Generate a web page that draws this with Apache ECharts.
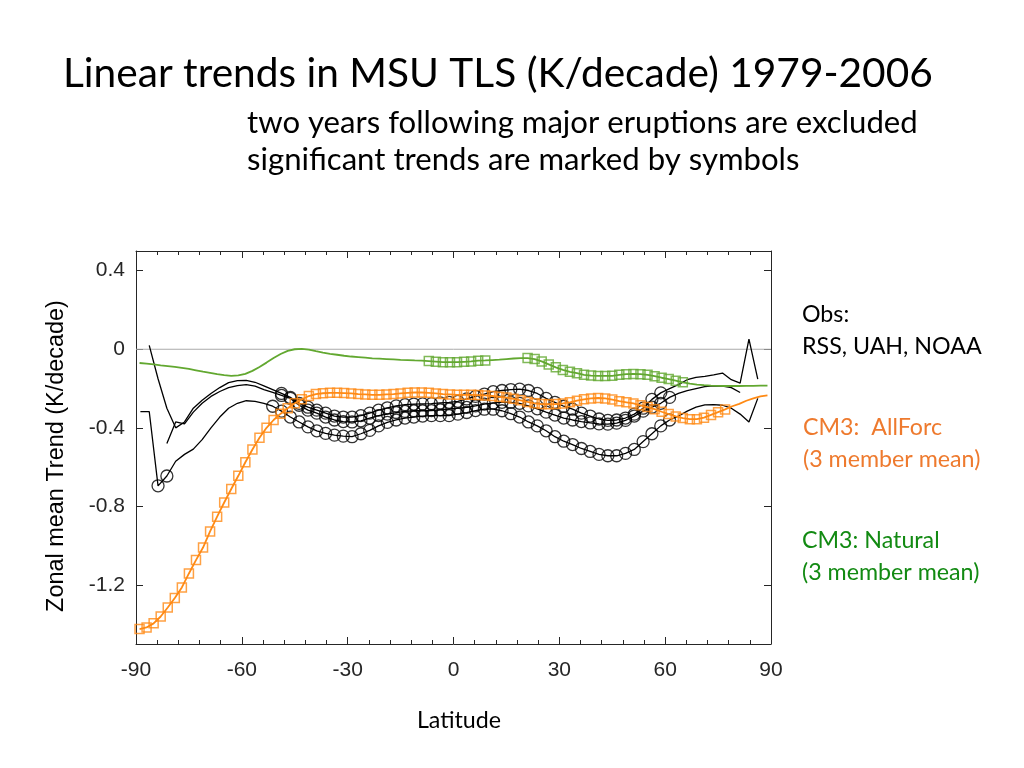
<!DOCTYPE html>
<html><head><meta charset="utf-8">
<script src="https://cdn.jsdelivr.net/npm/echarts@6/dist/echarts.min.js"></script>
<style>html,body{margin:0;padding:0;background:#fff}#c{width:1024px;height:768px}</style>
</head><body><div id="c"></div><script>
// ---------------- data ----------------
const modelLat = [-89,-87,-85,-83,-81,-79,-77,-75,-73,-71,
  -69,-67,-65,-63,-61,-59,-57,-55,-53,-51,
  -49,-47,-45,-43,-41,-39,-37,-35,-33,-31,
  -29,-27,-25,-23,-21,-19,-17,-15,-13,-11,
  -9,-7,-5,-3,-1,1,3,5,7,9,
  11,13,15,17,19,21,23,25,27,29,
  31,33,35,37,39,41,43,45,47,49,
  51,53,55,57,59,61,63,65,67,69,
  71,73,75,77,79,81,83,85,87,89];
const allForc = [-1.424,-1.416,-1.395,-1.36,-1.314,-1.266,-1.212,-1.141,-1.073,-1.009,
  -0.927,-0.852,-0.78,-0.711,-0.644,-0.575,-0.51,-0.45,-0.40,-0.36,
  -0.328,-0.30,-0.275,-0.255,-0.238,-0.228,-0.224,-0.222,-0.222,-0.223,
  -0.225,-0.228,-0.23,-0.232,-0.232,-0.23,-0.228,-0.225,-0.222,-0.22,
  -0.22,-0.222,-0.225,-0.228,-0.23,-0.232,-0.232,-0.232,-0.233,-0.235,
  -0.238,-0.242,-0.246,-0.252,-0.26,-0.268,-0.275,-0.279,-0.28,-0.279,
  -0.276,-0.27,-0.262,-0.255,-0.25,-0.248,-0.25,-0.256,-0.264,-0.27,
  -0.276,-0.285,-0.294,-0.305,-0.318,-0.33,-0.342,-0.35,-0.356,-0.356,
  -0.348,-0.334,-0.32,-0.306,-0.29,-0.278,-0.262,-0.25,-0.24,-0.235];
const natural = [-0.07,-0.073,-0.077,-0.082,-0.086,-0.09,-0.095,-0.1,-0.107,-0.114,
  -0.12,-0.127,-0.132,-0.135,-0.133,-0.125,-0.11,-0.09,-0.068,-0.045,
  -0.024,-0.008,0.0,0.002,-0.002,-0.01,-0.017,-0.023,-0.028,-0.033,
  -0.037,-0.04,-0.043,-0.046,-0.048,-0.05,-0.052,-0.054,-0.055,-0.057,
  -0.058,-0.06,-0.063,-0.066,-0.066,-0.066,-0.064,-0.062,-0.058,-0.057,
  -0.055,-0.053,-0.05,-0.047,-0.045,-0.045,-0.05,-0.062,-0.077,-0.092,
  -0.105,-0.115,-0.122,-0.13,-0.134,-0.136,-0.136,-0.135,-0.13,-0.127,
  -0.126,-0.127,-0.13,-0.137,-0.145,-0.152,-0.16,-0.168,-0.175,-0.18,
  -0.183,-0.185,-0.186,-0.187,-0.187,-0.187,-0.186,-0.186,-0.185,-0.185];
const allForcSig = [[-89, 77]];
const naturalSig = [[-7, 9], [21, 65]];

const obsLat = [-88.75,-86.25,-83.75,-81.25,-78.75,-76.25,-73.75,-71.25,
  -68.75,-66.25,-63.75,-61.25,-58.75,-56.25,-53.75,-51.25,
  -48.75,-46.25,-43.75,-41.25,-38.75,-36.25,-33.75,-31.25,
  -28.75,-26.25,-23.75,-21.25,-18.75,-16.25,-13.75,-11.25,
  -8.75,-6.25,-3.75,-1.25,1.25,3.75,6.25,8.75,
  11.25,13.75,16.25,18.75,21.25,23.75,26.25,28.75,
  31.25,33.75,36.25,38.75,41.25,43.75,46.25,48.75,
  51.25,53.75,56.25,58.75,61.25,63.75,66.25,68.75,
  71.25,73.75,76.25,78.75,81.25,83.75,86.25,88.75];
const obs1 = [null,0.02,-0.15,-0.30,-0.40,-0.37,-0.30,-0.26,
  -0.225,-0.195,-0.17,-0.16,-0.158,-0.168,-0.186,-0.205,
  -0.225,-0.245,-0.275,-0.295,-0.31,-0.325,-0.34,-0.345,
  -0.345,-0.338,-0.325,-0.31,-0.298,-0.288,-0.282,-0.279,
  -0.278,-0.277,-0.273,-0.27,-0.265,-0.253,-0.24,-0.228,
  -0.216,-0.21,-0.205,-0.203,-0.21,-0.225,-0.25,-0.27,
  -0.29,-0.305,-0.325,-0.34,-0.355,-0.362,-0.36,-0.35,
  -0.33,-0.30,-0.255,-0.222,-0.20,-0.18,-0.155,-0.143,
  -0.138,-0.13,-0.121,-0.155,-0.172,0.052,-0.152,null];
const obs2 = [null,null,null,-0.48,-0.37,-0.38,-0.32,-0.275,
  -0.24,-0.215,-0.195,-0.185,-0.18,-0.188,-0.205,-0.22,
  -0.235,-0.25,-0.285,-0.31,-0.325,-0.345,-0.36,-0.368,
  -0.37,-0.364,-0.35,-0.338,-0.33,-0.322,-0.316,-0.313,
  -0.313,-0.312,-0.308,-0.304,-0.30,-0.296,-0.288,-0.279,
  -0.273,-0.27,-0.27,-0.275,-0.288,-0.303,-0.32,-0.335,
  -0.35,-0.36,-0.368,-0.375,-0.38,-0.381,-0.376,-0.362,
  -0.34,-0.315,-0.295,-0.275,-0.245,-0.225,-0.21,-0.20,
  -0.19,-0.186,-0.188,-0.195,-0.22,null,null,null];
const obs3 = [-0.317,-0.317,-0.695,-0.645,-0.57,-0.535,-0.508,-0.46,
  -0.40,-0.345,-0.30,-0.275,-0.262,-0.265,-0.275,-0.29,
  -0.315,-0.345,-0.37,-0.395,-0.415,-0.428,-0.437,-0.442,
  -0.445,-0.43,-0.413,-0.39,-0.372,-0.36,-0.35,-0.345,
  -0.34,-0.338,-0.338,-0.338,-0.33,-0.322,-0.312,-0.305,
  -0.305,-0.313,-0.328,-0.345,-0.37,-0.39,-0.415,-0.445,
  -0.468,-0.485,-0.505,-0.52,-0.535,-0.542,-0.542,-0.53,
  -0.51,-0.47,-0.43,-0.39,-0.36,-0.34,-0.315,-0.295,
  -0.283,-0.282,-0.285,-0.30,-0.33,-0.37,-0.25,null];
const obs1Sig = [[-48.75, 58.75]];
const obs2Sig = [[-48.75, 61.25]];
const obs3Sig = [[-83.75, -81.25], [-51.25, 61.25]];

const xRange = [-90, 90];
const yRange = [-1.5, 0.5];
const yTickRange = [-1.2, 0.4];
const xStep = 30, yStep = 0.4;

const titleText = 'Linear trends in MSU TLS (K/decade) 1979-2006';
const sub1 = 'two years following major eruptions are excluded';
const sub2 = 'significant trends are marked by symbols';
const yName = 'Zonal mean Trend (K/decade)';
const xName = 'Latitude';

// ---------------- helpers ----------------
function pts(lat, v) { const o = []; for (let i = 0; i < lat.length; i++) if (v[i] !== null) o.push([lat[i], v[i]]); return o; }
function sigPts(lat, v, ranges) {
  return pts(lat, v).filter(p => ranges.some(r => p[0] >= r[0] - 1e-6 && p[0] <= r[1] + 1e-6));
}
const cv = document.createElement('canvas').getContext('2d');
function fit(text, family, w) { cv.font = '100px ' + family; return 100 * w / cv.measureText(text).width; }

const CAL = 'Lato';
const ARI = '"Liberation Sans", Arial';
const ORANGE = '#ff8a14', GREEN = '#62a830', BLACK = '#000';
const AX = '#262626';

const tSize = fit(titleText, CAL, 870);
const sSize = fit(sub1, CAL, 671);
const rSize = (fit('RSS, UAH, NOAA', CAL, 170) + fit('(3 member mean)', CAL, 187)) / 2;
const yNameSize = fit(yName, ARI, 312);

const G = { left: 136, top: 251, width: 635, height: 393 };
const pxPerUnit = G.height / (yRange[1] - yRange[0]);
const g1top = G.top + (yRange[1] - yTickRange[1]) * pxPerUnit;
const g1h = (yTickRange[1] - yTickRange[0]) * pxPerUnit;

function lineS(data, color, w, z) {
  return { type: 'line', data, xAxisIndex: 0, yAxisIndex: 0, symbol: 'none', z: z || 2,
    lineStyle: { color, width: w }, itemStyle: { color }, silent: true };
}
function markS(data, color, sym, size, bw, z) {
  return { type: 'scatter', data, xAxisIndex: 0, yAxisIndex: 0, symbol: sym, symbolSize: size, z: z || 3,
    itemStyle: { color: 'rgba(0,0,0,0)', borderColor: color, borderWidth: bw }, silent: true };
}
function xAx(gridIndex, position, showLabel) {
  return {
    type: 'value', gridIndex, position, min: xRange[0], max: xRange[1], interval: xStep,
    axisLine: { show: true, onZero: false, lineStyle: { color: AX, width: 1 } },
    axisTick: { show: true, inside: true, length: 7, lineStyle: { color: AX, width: 1 } },
    minorTick: { show: true, splitNumber: 5, length: 4, lineStyle: { color: AX, width: 1 } },
    axisLabel: { show: showLabel, fontFamily: ARI, fontSize: 21, color: AX, margin: 16 },
    splitLine: { show: false }, minorSplitLine: { show: false }
  };
}
function yTickAx(position, showLabel) {
  return { type: 'value', gridIndex: 1, position, min: yTickRange[0], max: yTickRange[1], interval: yStep,
    axisLine: { show: false, onZero: false },
    axisTick: { show: true, inside: true, length: 7, lineStyle: { color: AX, width: 1 } },
    axisLabel: { show: showLabel, fontFamily: ARI, fontSize: 21, color: AX, margin: 11,
      formatter: v => String(+(+v).toFixed(1)) },
    splitLine: { show: false } };
}
function yBoxAx(gridIndex, position, show) {
  return { type: 'value', gridIndex, position, min: yRange[0], max: yRange[1], show,
    axisLine: { show: true, onZero: false, lineStyle: { color: AX, width: 1 } },
    axisTick: { show: false }, axisLabel: { show: false }, splitLine: { show: false } };
}

const chart = echarts.init(document.getElementById('c'), null, { renderer: 'canvas' });
chart.setOption({
  animation: false,
  backgroundColor: '#fff',
  grid: [
    { left: G.left, top: G.top, width: G.width, height: G.height, containLabel: false },
    { left: G.left, top: g1top, width: G.width, height: g1h, containLabel: false },
    { left: G.left, top: G.top, width: G.width, height: G.height, containLabel: false }
  ],
  xAxis: [
    xAx(0, 'bottom', true),
    { type: 'value', gridIndex: 1, min: xRange[0], max: xRange[1], show: false },
    xAx(2, 'top', false)
  ],
  yAxis: [
    yBoxAx(0, 'left', true),
    yBoxAx(0, 'right', true),
    yTickAx('left', true),
    yTickAx('right', false),
    yBoxAx(2, 'left', false)
  ],
  series: [
    lineS([[xRange[0], 0], [xRange[1], 0]], '#ababab', 1, 1),
    lineS(pts(obsLat, obs1), BLACK, 1.3),
    lineS(pts(obsLat, obs2), BLACK, 1.3),
    lineS(pts(obsLat, obs3), BLACK, 1.3),
    markS(sigPts(obsLat, obs1, obs1Sig), BLACK, 'circle', 12, 1.3),
    markS(sigPts(obsLat, obs2, obs2Sig), BLACK, 'circle', 12, 1.3),
    markS(sigPts(obsLat, obs3, obs3Sig), BLACK, 'circle', 12, 1.3),
    lineS(pts(modelLat, natural), GREEN, 1.8, 4),
    markS(sigPts(modelLat, natural, naturalSig), GREEN, 'rect', 9, 1.5, 5),
    lineS(pts(modelLat, allForc), ORANGE, 1.8, 4),
    markS(sigPts(modelLat, allForc, allForcSig), ORANGE, 'rect', 9, 1.5, 5)
  ],
  graphic: [
    { type: 'text', x: 63, y: 74, style: { text: titleText, fontFamily: CAL, fontSize: tSize, fill: '#000', align: 'left', verticalAlign: 'middle' } },
    { type: 'text', x: 247, y: 123, style: { text: sub1, fontFamily: CAL, fontSize: sSize, fill: '#000', align: 'left', verticalAlign: 'middle' } },
    { type: 'text', x: 247, y: 160, style: { text: sub2, fontFamily: CAL, fontSize: sSize, fill: '#000', align: 'left', verticalAlign: 'middle' } },
    { type: 'text', x: 802, y: 315, style: { text: 'Obs:', fontFamily: CAL, fontSize: rSize, fill: '#000', align: 'left', verticalAlign: 'middle' } },
    { type: 'text', x: 802, y: 347, style: { text: 'RSS, UAH, NOAA', fontFamily: CAL, fontSize: rSize, fill: '#000', align: 'left', verticalAlign: 'middle' } },
    { type: 'text', x: 803, y: 428, style: { text: 'CM3:  AllForc', fontFamily: CAL, fontSize: rSize, fill: '#ee7a2e', align: 'left', verticalAlign: 'middle' } },
    { type: 'text', x: 803, y: 460, style: { text: '(3 member mean)', fontFamily: CAL, fontSize: rSize, fill: '#ee7a2e', align: 'left', verticalAlign: 'middle' } },
    { type: 'text', x: 802, y: 541, style: { text: 'CM3: Natural', fontFamily: CAL, fontSize: rSize, fill: '#128a12', align: 'left', verticalAlign: 'middle' } },
    { type: 'text', x: 802, y: 573, style: { text: '(3 member mean)', fontFamily: CAL, fontSize: rSize, fill: '#128a12', align: 'left', verticalAlign: 'middle' } },
    { type: 'text', x: 459, y: 721, style: { text: xName, fontFamily: CAL, fontSize: rSize, fill: '#000', align: 'center', verticalAlign: 'middle' } },
    { type: 'text', x: 57, y: 456, rotation: Math.PI / 2, style: { text: yName, fontFamily: ARI, fontSize: yNameSize, fill: '#000', align: 'center', verticalAlign: 'middle' } }
  ]
});
</script></body></html>
